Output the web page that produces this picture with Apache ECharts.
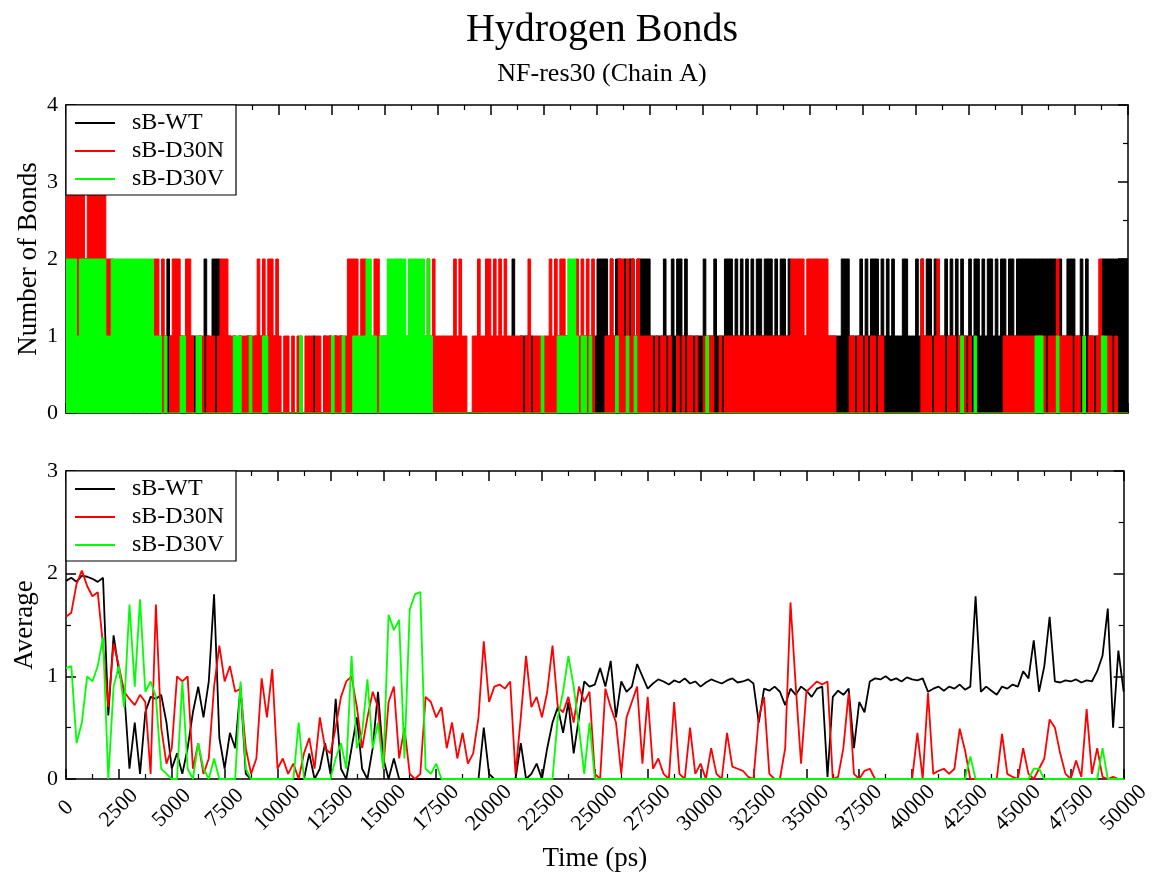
<!DOCTYPE html>
<html><head><meta charset="utf-8">
<script src="https://cdn.jsdelivr.net/npm/echarts@6/dist/echarts.min.js"></script>
<style>html,body{margin:0;padding:0;background:#fff}#c{width:1153px;height:877px}</style>
</head><body><div id="c"></div><script>
// ---------------- data ----------------
const seriesNames = ['sB-WT', 'sB-D30N', 'sB-D30V'];
const seriesColors = ['#000000', '#ff0000', '#00ff00'];
const xMin = 0, xMax = 50000, xStep = 2500;
const binPs = 125;       // top panel: one character = one 125 ps bin (number of bonds)
const avgStepPs = 250;   // bottom panel: sample spacing (ps)

// Number of bonds, one line = 5000 ps (40 bins)
const bondsWT = [
  "22222222222222 1111111111 1010110101 1011 2 1",
  "101101011010 2 10 222 1011010100110101001010",
  "0000000000000 1 000 1 0 1 0 1 0 1 0000000000000000",
  "0000000000 0000000000 0000000000 00000000 10",
  "00000000 2 00 11111 000000 101101101110110111",
  "2222 1 21221212212 2222 11111 2 11 2 1 22 1 2 111111",
  "2 111 2 111 222 1 2 1 2 1 2 1 2 1 2 2122212 1 2212 1111111",
  "1111111111 11 222 1111 21212221212 1 2 111 22 111",
  "2 1 212212 111 2 1 2 1 2 1 2 11 21221212212122122 1 22",
  "2222222222222 1 2 11 222 11 2 1 2 11111 2222222222"
];
const bondsD30N = [
  "3333333 2 3333333 222 111111111111111 22 1 2 101",
  "222 11 22 1 0 111011101 222 11101111011 2 1 2 1 2 2 1 2",
  "10110101101110110111011111 2222 1 22 111 22 11",
  "1111111111111111 2 1 2 1111111 2 1 2 11 00 11 2 11 22",
  "1 2 1 2 1 2 11111 101 2 0 111011 2 1 2 1 22 1111 2 1 2 1 2 1 2 0",
  "000 11 2 11 2 2 1 2 1 2 1 2 1111 10101 101001010110100",
  "101100101 111111111111111111111111 22222 1 2",
  "2222222 111 00000 1101101011011 000000000000",
  "00 2 11101 2 11011101110 1 000000000000 1111111",
  "1111111110111 2 1111 10110101101 2 1011010 000"
];
const bondsD30V = [
  "2222 1 2222222222 11 2222222222222222 111 0100",
  "000 11 0000 11 000000000000 111 000 1 0000 11 0000",
  "00000000 1 00000000000 1 000 1 000 11111 22 11 0 11",
  "1 2222222 1 222222 1 2 1 0000000000 0000000000 00",
  "0000000000 000000000 1 00000 1111 222 1 0 11 0 1 00",
  "0000000 1 000 1 00 1 0000000000 0000000000 00000",
  "0 1 0000000000 0000000000 0000000000 00000000",
  "0000000000 0000000000 0000000000 0000000000",
  "0000000000 0000000 1 0000 1 0000000000 0000000",
  "00000 111 00000 1 000000000 1 000000 11 00000000"
];

// Running average, one row = 5000 ps (20 samples), plus final value at 50000
const avgWT = [
  1.93,1.96,1.92,1.98,1.97,1.95,1.92,1.96,0.62,1.40,1.05,0.85,0.10,0.55,0.05,0.65,0.80,0.78,0.82,0.55,
  0.10,0.25,0.05,0.30,0.65,0.90,0.60,0.95,1.80,0.40,0.10,0.45,0.30,0.90,0.05,0,0,0,0,0,
  0,0,0,0,0,0,0.25,0,0.10,0.35,0.05,0.78,0.10,0,0.30,0.60,0.10,0,0.30,0.85,
  0.20,0,0.20,0,0,0,0,0,0,0,0,0,0,0,0,0,0,0,0,0.50,
  0.05,0,0,0,0,0,0.35,0,0.05,0.15,0,0.30,0.55,0.70,0.45,0.75,0.25,0.60,0.95,0.90,
  0.92,1.08,0.90,1.15,0.60,0.95,0.85,0.90,1.12,1.00,0.88,0.93,0.97,0.95,0.92,0.96,0.94,0.98,0.93,0.95,
  0.90,0.94,0.97,0.95,0.93,0.96,0.98,0.94,0.95,0.97,0.93,0.55,0.88,0.86,0.90,0.85,0.72,0.88,0.82,0.90,
  0.86,0.80,0.88,0.90,0.02,0.80,0.86,0.82,0.88,0.30,0.75,0.65,0.95,0.98,0.97,1.00,0.96,0.98,0.95,0.99,
  0.97,0.96,0.98,0.85,0.88,0.90,0.86,0.90,0.88,0.92,0.87,0.90,1.78,0.85,0.90,0.86,0.82,0.90,0.88,0.92,
  0.90,1.05,0.98,1.35,0.85,1.10,1.58,0.95,0.94,0.96,0.95,0.97,0.94,0.96,0.95,1.05,1.20,1.66,0.50,1.25,
  0.85
];
const avgD30N = [
  1.58,1.62,1.90,2.03,1.88,1.78,1.82,1.30,0.70,1.32,1.10,0.85,0.78,0.72,0.82,0.75,0.05,1.70,0.50,0.15,
  0.30,1.00,0.95,1.00,0.10,0.35,0.05,0.20,0.90,1.30,0.95,1.10,0.85,0.88,0.30,0.05,0.20,0.98,0.60,1.07,
  0.10,0.20,0.05,0.15,0,0.25,0.40,0.10,0.60,0.30,0.25,0.50,0.80,0.95,1.00,0.70,0.30,0.60,0.85,0.70,
  0.10,0.75,0.90,0.20,0.50,0.05,0,0.05,0.80,0.75,0.60,0.70,0.30,0.55,0.20,0.45,0.15,0.25,0.60,1.34,
  0.75,0.90,0.92,0.88,0.95,0.05,0.60,1.20,0.70,0.80,0.60,0.85,1.30,0.70,0.65,0.80,0.55,0.90,0.75,0.85,
  0.05,0,0.88,0.70,0.55,0.05,0.60,0.75,0.90,0.15,0.80,0.10,0.20,0.05,0,0.75,0.05,0,0.50,0.05,
  0.15,0,0.30,0.05,0,0.45,0.12,0.10,0.08,0.02,0,0.60,0.80,0.05,0,0,0.30,1.72,0.90,0.15,
  0.85,0.90,0.95,0.92,0.95,0,0.02,0.30,0.84,0.05,0,0.08,0.10,0,0,0,0,0,0,0,
  0,0.45,0,0.84,0.05,0.08,0.10,0.05,0.10,0.49,0.28,0,0,0,0,0,0,0.44,0.05,0.02,
  0,0.30,0.05,0,0.10,0.20,0.58,0.50,0.25,0.05,0,0.18,0.02,0.68,0.05,0.30,0.02,0,0.02,0,
  0
];
const avgD30V = [
  1.08,1.10,0.35,0.55,1.00,0.95,1.10,1.38,0,0.90,1.10,0.70,1.70,0.90,1.75,0.85,0.95,0.80,0.10,0.05,
  0,0,0.95,0.10,0,0.35,0.10,0,0.20,0,0,0,0,0.95,0.10,0,0,0,0,0,
  0,0,0,0,0.55,0,0,0,0,0,0,0.20,0.35,0.10,1.20,0.30,0.45,0.97,0.30,0.55,
  0.10,1.60,1.45,1.55,0.20,1.65,1.80,1.82,0.10,0.05,0.15,0,0,0,0,0,0,0,0,0,
  0,0,0,0,0,0,0,0,0,0,0,0,0,0.60,0.85,1.20,0.90,0.50,0.05,0.55,
  0,0,0,0,0,0,0,0,0,0,0,0,0,0,0,0,0,0,0,0,
  0,0,0,0,0,0,0,0,0,0,0,0,0,0,0,0,0,0,0,0,
  0,0,0,0,0,0,0,0,0,0,0,0,0,0,0,0,0,0,0,0,
  0,0,0,0,0,0,0,0,0,0,0,0.22,0,0,0,0,0,0,0,0,
  0,0,0,0.10,0.10,0,0,0,0,0,0,0,0,0,0,0,0.30,0,0,0,
  0
];

// ---------------- build ----------------
function bondPoints(lines) {
  const s = lines.map(l => l.replace(/\s+/g, '')).join('');
  const pts = [];
  for (let k = 0; k < s.length; k++) pts.push([k * binPs, Number(s[k])]);
  pts.push([s.length * binPs, Number(s[s.length - 1])]);
  return pts;
}
function avgPoints(arr) { return arr.map((v, i) => [i * avgStepPs, v]); }

const FONT = 'Liberation Serif';
const grids = [
  { left: 66, top: 105, width: 1062, height: 308 },
  { left: 66, top: 471, width: 1062, height: 308 }
];
function axisBase(extra) {
  return Object.assign({
    type: 'value',
    axisLine: { show: true, onZero: false, lineStyle: { color: '#000', width: 1.5 } },
    axisTick: { show: true, inside: true, length: 10, lineStyle: { color: '#000', width: 1.5 } },
    minorTick: { show: true, splitNumber: 2, length: 5, lineStyle: { color: '#000', width: 1.2 } },
    splitLine: { show: false },
    axisLabel: { show: false }
  }, extra);
}
const xAxes = [
  axisBase({ gridIndex: 0, position: 'bottom', min: xMin, max: xMax, interval: xStep }),
  axisBase({ gridIndex: 0, position: 'top', min: xMin, max: xMax, interval: xStep }),
  axisBase({ gridIndex: 1, position: 'bottom', min: xMin, max: xMax, interval: xStep,
    axisLabel: { show: true, rotate: 45, margin: 29, align: 'center', verticalAlign: 'middle',
      fontFamily: FONT, fontSize: 22, color: '#000', formatter: v => String(v) },
    name: 'Time (ps)', nameLocation: 'middle', nameGap: 66, nameMoveOverlap: false,
    nameTextStyle: { fontFamily: FONT, fontSize: 27, color: '#000' } }),
  axisBase({ gridIndex: 1, position: 'top', min: xMin, max: xMax, interval: xStep })
];
const yAxes = [
  axisBase({ gridIndex: 0, position: 'left', min: 0, max: 4, interval: 1,
    axisLabel: { show: true, margin: 8, fontFamily: FONT, fontSize: 22, color: '#000' },
    name: 'Number of Bonds', nameLocation: 'middle', nameGap: 24, nameMoveOverlap: false,
    nameTextStyle: { fontFamily: FONT, fontSize: 27, color: '#000' } }),
  axisBase({ gridIndex: 0, position: 'right', min: 0, max: 4, interval: 1 }),
  axisBase({ gridIndex: 1, position: 'left', min: 0, max: 3, interval: 1,
    axisLabel: { show: true, margin: 8, fontFamily: FONT, fontSize: 22, color: '#000' },
    name: 'Average', nameLocation: 'middle', nameGap: 28, nameMoveOverlap: false,
    nameTextStyle: { fontFamily: FONT, fontSize: 27, color: '#000' } }),
  axisBase({ gridIndex: 1, position: 'right', min: 0, max: 3, interval: 1 })
];

const bondData = [bondsWT, bondsD30N, bondsD30V];
const avgData = [avgWT, avgD30N, avgD30V];
const series = [];
bondData.forEach((d, i) => series.push({
  name: seriesNames[i], type: 'line', xAxisIndex: 0, yAxisIndex: 0,
  data: bondPoints(d), step: 'end', symbol: 'none', animation: false,
  itemStyle: { color: seriesColors[i] },
  lineStyle: { color: seriesColors[i], width: 1 },
  areaStyle: { color: seriesColors[i], opacity: 1 },
  z: 2 + i
}));
avgData.forEach((d, i) => series.push({
  name: seriesNames[i], type: 'line', xAxisIndex: 2, yAxisIndex: 2,
  data: avgPoints(d), symbol: 'none', animation: false,
  itemStyle: { color: seriesColors[i] },
  lineStyle: { color: seriesColors[i], width: 1.8 },
  z: 2 + i
}));

function legendAt(top) {
  return {
    left: 66, top: top, orient: 'vertical', data: seriesNames,
    icon: 'rect', itemWidth: 40, itemHeight: 2, itemGap: 4,
    padding: [6, 12, 4, 9], backgroundColor: '#fff', borderColor: '#000', borderWidth: 1.2,
    selectedMode: false, z: 10,
    textStyle: { fontFamily: FONT, fontSize: 24, color: '#000', lineHeight: 24, padding: [0, 0, 0, 12] }
  };
}

const chart = echarts.init(document.getElementById('c'), null, { renderer: 'canvas' });
chart.setOption({
  backgroundColor: '#fff',
  animation: false,
  title: [
    { text: 'Hydrogen Bonds', left: 597, top: 5, textAlign: 'center',
      textStyle: { fontFamily: FONT, fontSize: 40, fontWeight: 'normal', color: '#000' } },
    { text: 'NF-res30 (Chain A)', left: 597, top: 56, textAlign: 'center',
      textStyle: { fontFamily: FONT, fontSize: 26, fontWeight: 'normal', color: '#000' } }
  ],
  legend: [legendAt(105), legendAt(471)],
  grid: grids,
  xAxis: xAxes,
  yAxis: yAxes,
  series: series
});
</script></body></html>
